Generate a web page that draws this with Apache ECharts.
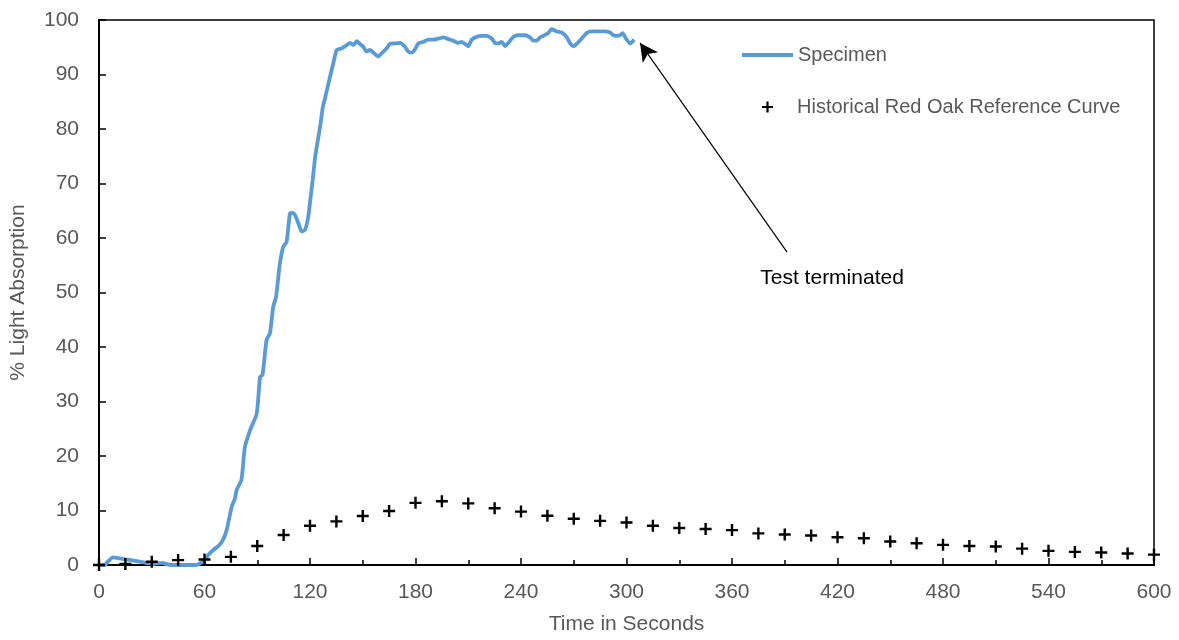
<!DOCTYPE html>
<html>
<head>
<meta charset="utf-8">
<script src="https://cdn.jsdelivr.net/npm/echarts@6/dist/echarts.min.js"></script>
<style>
html,body{margin:0;padding:0;background:#fff;}
#chart{width:1179px;height:640px;}
</style>
</head>
<body>
<div id="chart"></div>
<script>
// ---- Data ----
const specimenTime = [0,3.4,5,8,12,16,20,23,27,31,33,36,39,41,45,50,55.5,58,60,62,65,68,70.5,72.6,74,75.5,77.3,78.3,81,83,86,89.7,91.6,93,95.3,97.2,99.1,100.7,102.9,104.8,106.7,108.6,110,111.5,113.4,115.3,117.2,119,120.4,121.5,123,124.5,126,127.3,128.5,131.4,133.3,135.2,138,140.9,142.8,144.7,146.6,148.4,150.3,152.2,154.1,156,158.8,160.8,163.6,165.5,168.3,171.2,174,175.9,177.8,179.7,181.6,184.5,187.3,190.1,193,195.8,198.7,201.5,204.3,206.2,208.2,210,212,214.8,217.6,220.5,223.3,225.2,227.1,229,230.9,232.8,235.6,238.5,242.3,245.1,247,248.9,250.8,252.7,255.5,257.4,260.3,263.1,265.9,267.8,269.7,271.6,274.5,277.3,280.2,283.9,287.8,290.6,292.5,294.4,296.3,297.8,299.7,302,304.4];
const specimenValue = [0,0,0.6,1.4,1.2,1.0,0.8,0.6,0.4,0.2,0.3,0.4,0.1,0,0,0,0,0.4,0.9,1.8,2.75,3.5,4.6,6.4,8.5,10.7,12.2,13.8,15.6,21.7,24.8,27.8,34.5,34.9,41.3,42.5,47.4,49.2,55.4,58.4,59.3,64.5,64.6,64.2,62.7,61.2,61.5,63.9,67.6,70.6,75,78,81,84,85.6,89.6,92.1,94.5,94.8,95.4,95.8,95.4,96.1,95.6,95.1,94.2,94.5,94.0,93.3,93.9,94.8,95.6,95.7,95.8,95.1,94.2,94.0,94.6,95.7,96.0,96.4,96.4,96.6,96.8,96.5,96.2,95.8,96.0,95.6,95.2,96.4,96.9,97.1,97.1,96.6,95.8,95.7,96.0,95.2,95.8,96.9,97.2,97.2,96.8,96.2,96.2,96.8,97.1,97.6,98.3,97.9,97.7,96.9,95.8,95.2,95.6,96.6,97.6,97.9,97.9,97.9,97.7,97.2,97.1,97.2,97.6,96.6,95.7,96.4];
const refTime = [0,15,30,45,60,75,90,105,120,135,150,165,180,195,210,225,240,255,270,285,300,315,330,345,360,375,390,405,420,435,450,465,480,495,510,525,540,555,570,585,600];
const refValue = [0,0.2,0.6,0.9,1.0,1.5,3.5,5.5,7.2,8.0,9.0,9.9,11.4,11.7,11.3,10.4,9.8,9.05,8.5,8.1,7.8,7.2,6.8,6.6,6.4,5.8,5.6,5.4,5.1,4.9,4.3,4.0,3.7,3.5,3.4,3.0,2.6,2.4,2.3,2.1,1.9];
const xTicks = {min:0, max:600, interval:60};
const yTicks = {min:0, max:100, interval:10};
const arrowFrom = [391.3, 57.4];
const arrowTo = [307.7, 95.8];
const noteAt = [416.9, 52.7];
const noteText = 'Test terminated';
const seriesNames = ['Specimen', 'Historical Red Oak Reference Curve'];

// ---- Chart ----
const plusPath = 'path://M5.2,0H7.8V5.2H13V7.8H7.8V13H5.2V7.8H0V5.2H5.2Z';
const gray = '#595959';
const font = 'Liberation Sans, Arial, sans-serif';
const chart = echarts.init(document.getElementById('chart'), null, {renderer:'canvas'});
chart.setOption({
  animation:false,
  backgroundColor:'#fff',
  textStyle:{fontFamily:font},
  grid:{left:99, right:25, top:20, bottom:75, show:true, borderColor:'#000', borderWidth:1.5, backgroundColor:'transparent'},
  legend:[
    {data:[{name:seriesNames[0], icon:'rect'}], left:742, top:45, padding:0, itemWidth:51, itemHeight:4, itemGap:5,
     textStyle:{color:gray, fontSize:20, fontFamily:font}, selectedMode:false},
    {data:[{name:seriesNames[1], icon:plusPath}], left:762, top:97, padding:0, itemWidth:11, itemHeight:11,
     textStyle:{color:gray, fontSize:20, fontFamily:font, padding:[0,0,0,19]}, selectedMode:false}
  ],
  xAxis:{type:'value', min:xTicks.min, max:xTicks.max, interval:xTicks.interval,
    name:'Time in Seconds', nameLocation:'middle', nameGap:49,
    nameTextStyle:{color:gray, fontSize:21, fontFamily:font},
    axisLine:{show:true, lineStyle:{color:'#000', width:2}},
    axisTick:{show:true, inside:true, length:7, lineStyle:{color:'#000', width:1.5}},
    minorTick:{show:true, splitNumber:2, length:5, lineStyle:{color:'#000', width:1.5}},
    axisLabel:{color:gray, fontSize:21, margin:17, fontFamily:font},
    splitLine:{show:false}},
  yAxis:{type:'value', min:yTicks.min, max:yTicks.max, interval:yTicks.interval,
    name:'% Light Absorption', nameLocation:'middle', nameGap:70,
    nameTextStyle:{color:gray, fontSize:21, fontFamily:font},
    axisLine:{show:true, lineStyle:{color:'#000', width:2}},
    axisTick:{show:true, inside:true, length:7, lineStyle:{color:'#000', width:1.5}},
    axisLabel:{color:gray, fontSize:21, margin:20, fontFamily:font},
    splitLine:{show:false}},
  series:[
    {name:seriesNames[0], type:'line', showSymbol:false, symbol:'none', smooth:0.2,
     data:specimenTime.map((t,i)=>[t, specimenValue[i]]),
     itemStyle:{color:'#5B9BD5'}, lineStyle:{color:'#5B9BD5', width:3.8}, z:2},
    {name:seriesNames[1], type:'scatter', symbol:plusPath, symbolSize:12,
     data:refTime.map((t,i)=>[t, refValue[i]]),
     itemStyle:{color:'#000', opacity:1}, z:3,
     markLine:{silent:true, symbol:['none','arrow'], symbolSize:[14,18],
       lineStyle:{color:'#000', width:1.2, type:'solid'}, label:{show:false},
       data:[[{coord:arrowFrom},{coord:arrowTo}]]},
     markPoint:{silent:true, symbol:'circle', symbolSize:1, itemStyle:{color:'rgba(0,0,0,0)'},
       label:{show:true, position:'inside', color:'#000', fontSize:21, fontFamily:font, formatter:noteText},
       data:[{coord:noteAt}]}
    }
  ]
});
</script>
</body>
</html>
